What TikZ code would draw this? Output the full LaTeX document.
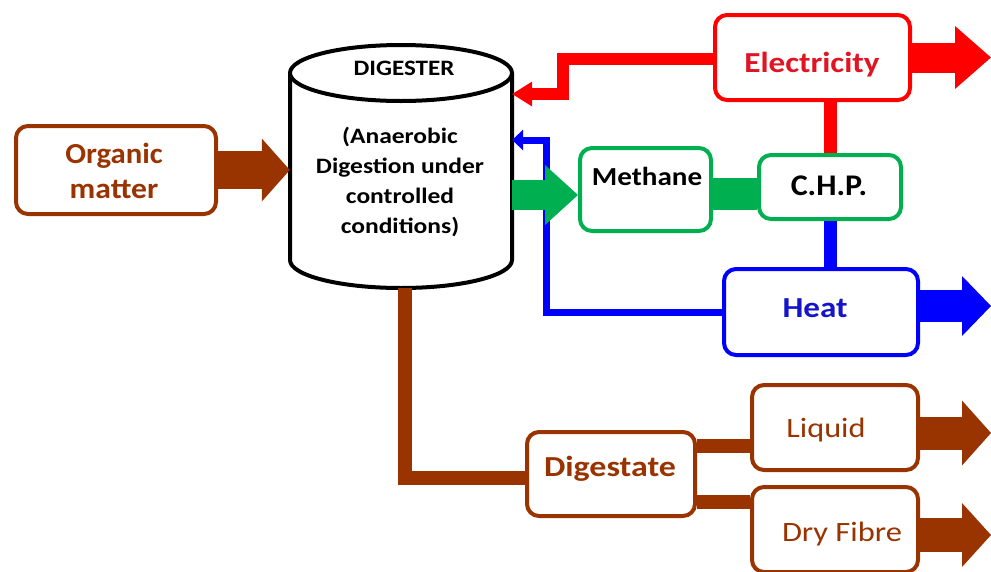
\documentclass[tikz,border=0pt]{standalone}
\usepackage{fontspec}
\setmainfont{Carlito}
\usetikzlibrary{arrows.meta}
\definecolor{brn}{RGB}{153,51,0}
\definecolor{rd}{RGB}{255,0,0}
\definecolor{gr}{RGB}{0,176,80}
\definecolor{bl}{RGB}{0,0,255}
\definecolor{rdtxt}{RGB}{225,20,35}
\definecolor{bltxt}{RGB}{20,20,200}
\newcommand\fsz[2]{\fontsize{#1pt}{#2pt}\selectfont}
\newcommand\sx[2]{\scalebox{#1}[1]{#2}}
\begin{document}
\begin{tikzpicture}[x=1pt,y=-1pt,
  box/.style={draw=#1, line width=4pt, rounded corners=12pt, fill=white, inner sep=0pt},
  lbl/.style={anchor=base, inner sep=0pt, font=\bfseries\fsz{29}{35}},
  rlbl/.style={anchor=base, inner sep=0pt, font=\fsz{28}{34}},
  dlbl/.style={anchor=base, inner sep=0pt, font=\bfseries\fsz{22}{26}},
  flow/.style={line width=#1, line join=miter},
  tip/.style n args={2}{-{Triangle[length=#1pt,width=#2pt,line width=0pt]}}
]
\useasboundingbox (0,0) rectangle (991,571);
% digester cylinder
\draw[line width=4pt, fill=white] (290,73) -- (290,260)
  arc[start angle=180, end angle=0, x radius=111, y radius=28] -- (512,73);
\draw[line width=4pt, fill=white] (401,73) ellipse[x radius=111, y radius=28];
\node[minimum width=222pt, minimum height=246pt, inner sep=0pt] (dig) at (401,167) {};
\node[dlbl] (digt) at (404,75) {\sx{1.14}{DIGESTER}};
\node[dlbl] (dl1) at (400,143) {\sx{1.16}{(Anaerobic}};
\node[dlbl] (dl2) at (400,173) {\sx{1.16}{Digestion under}};
\node[dlbl] (dl3) at (400,203) {\sx{1.16}{controlled}};
\node[dlbl] (dl4) at (400,233) {\sx{1.16}{conditions)}};

% boxes
\node[box=brn, minimum width=200pt, minimum height=88pt] (org) at (116,170) {};
\node[lbl, text=brn] (orgt1) at (114,163) {\sx{1.06}{Organic}};
\node[lbl, text=brn] (orgt2) at (114,198) {\sx{1.09}{matter}};

\node[box=rd, minimum width=195pt, minimum height=85pt] (elec) at (812.5,57.5) {};
\node[lbl, text=rdtxt] (elect) at (812,72) {\sx{1.14}{Electricity}};

\node[box=gr, minimum width=131pt, minimum height=83pt] (meth) at (645.5,189.5) {};
\node[lbl, font=\bfseries\fsz{26}{30}] (metht) at (647,185) {\sx{1.12}{Methane}};

\node[box=gr, minimum width=142pt, minimum height=64pt] (chp) at (830,187) {};
\node[lbl, font=\bfseries\fsz{30}{34}] (chpt) at (829,195) {\sx{1.07}{C.H.P.}};

\node[box=bl, minimum width=194pt, minimum height=86pt] (heat) at (821,312) {};
\node[lbl, text=bltxt] (heatt) at (815,317) {\sx{1.14}{Heat}};

\node[box=brn, minimum width=168pt, minimum height=84pt] (dige) at (611,474) {};
\node[lbl, text=brn] (diget) at (610,476) {\sx{1.17}{Digestate}};

\node[box=brn, minimum width=166pt, minimum height=85pt] (liq) at (835,427.5) {};
\node[rlbl, text=brn] (liqt) at (826,437) {\sx{1.15}{Liquid}};

\node[box=brn, minimum width=166pt, minimum height=85pt] (dry) at (835,529.5) {};
\node[rlbl, text=brn] (dryt) at (842,541) {\sx{1.16}{Dry Fibre}};

% coordinates
\coordinate (r1) at (562.5,58.5);
\coordinate (r2) at (562.5,94);
\coordinate (bc) at (546,140);
\coordinate (g0) at (512,195);
\coordinate (gm) at (735,194);
\coordinate (eR) at (991,57.5);
\coordinate (hR) at (991,306);
\coordinate (lR) at (991,433);
\coordinate (dR) at (991,535);
\coordinate (d0) at (405,288);
\coordinate (d1) at (405,478);
\coordinate (dl) at (720,446);
\coordinate (dd) at (720,502);

% connectors
\draw[bl, flow=7pt, tip={11}{21}] (heat.west) -| (bc) -- (bc -| dig.east);
\draw[rd, flow=12pt, tip={20}{25}] (elec.west |- r1) -- (r1) -- (r2) -- (r2 -| dig.east);
\draw[gr, flow=30pt, tip={33}{60}] (g0) -- (g0 -| meth.west);
\draw[gr, flow=32pt] (gm -| meth.east) -- (gm -| chp.west);
\draw[rd, flow=13pt] (chp.north) -- (chp.north |- elec.south);
\draw[bl, flow=13pt] (chp.south) -- (chp.south |- heat.north);
\draw[brn, flow=38pt, tip={28}{63}] (org.east) -- (org.east -| dig.west);
\draw[rd, flow=30pt, tip={36}{63}] (eR -| elec.east) -- (eR);
\draw[bl, flow=32pt, tip={29}{60}] (hR -| heat.east) -- (hR);
\draw[brn, flow=33pt, tip={29}{65}] (lR -| liq.east) -- (lR);
\draw[brn, flow=34pt, tip={29}{64}] (dR -| dry.east) -- (dR);
\draw[brn, flow=14pt] (d0) -- (d1) -- (d1 -| dige.west);
\draw[brn, flow=14pt] (dl -| dige.east) -- (dl -| liq.west);
\draw[brn, flow=14pt] (dd -| dige.east) -- (dd -| dry.west);
\end{tikzpicture}
\end{document}
